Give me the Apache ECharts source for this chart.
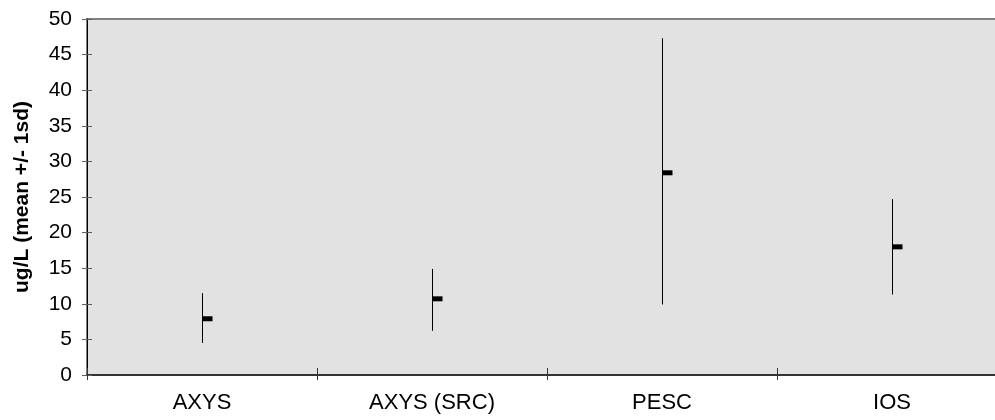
<!DOCTYPE html>
<html>
<head>
<meta charset="utf-8">
<script src="https://cdn.jsdelivr.net/npm/echarts@6/dist/echarts.min.js"></script>
<style>
    html, body { margin: 0; padding: 0; background: #fff; }
    #chart { width: 995px; height: 420px; }
</style>
</head>
<body>
<div id="chart"></div>
<script>
var labs = ['AXYS', 'AXYS (SRC)', 'PESC', 'IOS'];
var means = [7.9, 10.7, 28.4, 18.0];
var lows = [4.5, 6.2, 9.9, 11.3];
var highs = [11.5, 14.9, 47.3, 24.7];
var yTicks = [0, 5, 10, 15, 20, 25, 30, 35, 40, 45, 50];

var chart = echarts.init(document.getElementById('chart'));

var rows = [];
for (var i = 0; i < labs.length; i++) {
    rows.push([i, means[i], lows[i], highs[i]]);
}

var font = 'Liberation Sans, Arial, sans-serif';
var yMin = yTicks[0], yMax = yTicks[yTicks.length - 1];

var option = {
    animation: false,
    grid: {
        left: 87, top: 19, bottom: 45, width: 920,
        outerBoundsMode: 'none',
        containLabel: false,
        show: true,
        backgroundColor: '#e2e2e2',
        borderColor: '#808080',
        borderWidth: 2
    },
    xAxis: [{
        type: 'category',
        data: labs,
        boundaryGap: true,
        axisLine: {lineStyle: {color: '#333', width: 2}},
        axisTick: {show: true, length: 5, lineStyle: {color: '#333'}},
        axisLabel: {color: '#000', fontFamily: font, fontSize: 22, margin: 17}
    }, {
        type: 'category',
        data: labs,
        position: 'bottom',
        boundaryGap: true,
        axisLine: {show: false},
        axisTick: {show: true, inside: true, length: 7, lineStyle: {color: '#333'}},
        axisLabel: {show: false}
    }],
    yAxis: [{
        type: 'value',
        min: yMin,
        max: yMax,
        interval: 5,
        name: 'ug/L (mean +/- 1sd)',
        nameLocation: 'middle',
        nameGap: 54,
        nameTextStyle: {color: '#000', fontFamily: font, fontSize: 21, fontWeight: 'bold'},
        axisLine: {show: true, lineStyle: {color: '#000', width: 1}},
        axisTick: {show: true, length: 5, lineStyle: {color: '#606060'}},
        axisLabel: {color: '#000', fontFamily: font, fontSize: 21, margin: 15},
        splitLine: {show: false}
    }, {
        type: 'value',
        position: 'left',
        min: yMin,
        max: yMax,
        interval: 5,
        axisLine: {show: false},
        axisTick: {show: true, inside: true, length: 5, lineStyle: {color: '#606060'}},
        axisLabel: {show: false},
        splitLine: {show: false}
    }],
    series: [{
        type: 'custom',
        data: rows,
        xAxisIndex: 0,
        yAxisIndex: 0,
        encode: {x: 0, y: [1, 2, 3]},
        renderItem: function (params, api) {
            var c = api.value(0);
            var mid = api.coord([c, api.value(1)]);
            var lo = api.coord([c, api.value(2)]);
            var hi = api.coord([c, api.value(3)]);
            var x = Math.round(hi[0]) + 0.5;
            return {
                type: 'group',
                children: [{
                    type: 'line',
                    shape: {x1: x, y1: hi[1], x2: x, y2: lo[1]},
                    style: {stroke: '#000', lineWidth: 1}
                }, {
                    type: 'rect',
                    shape: {x: x, y: mid[1] - 2.5, width: 10, height: 5},
                    style: {fill: '#000'}
                }]
            };
        }
    }]
};

chart.setOption(option);
</script>
</body>
</html>
